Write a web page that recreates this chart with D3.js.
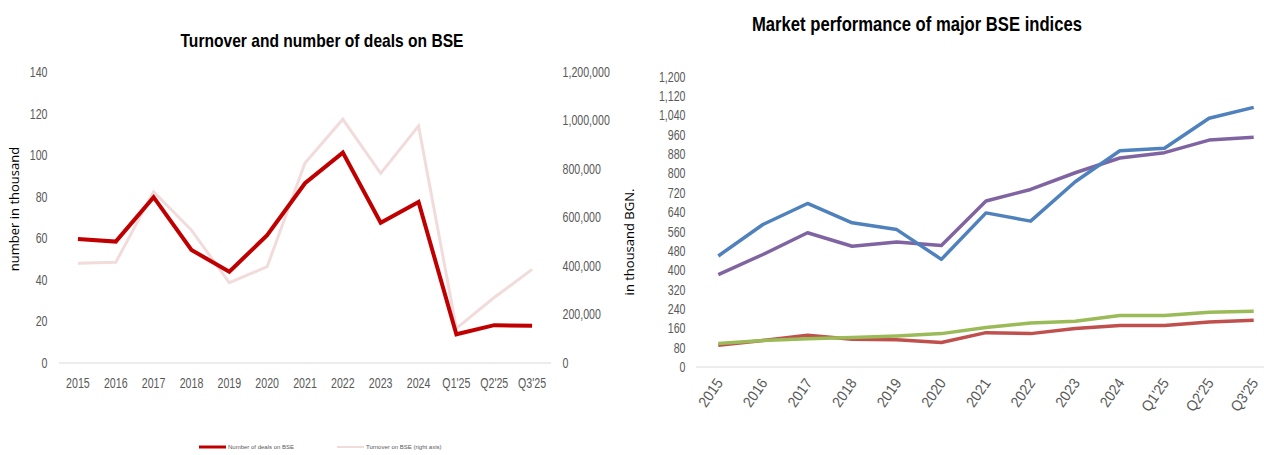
<!DOCTYPE html>
<html>
<head>
<meta charset="utf-8">
<script src="https://cdn.jsdelivr.net/npm/d3@7"></script>
<style>
  body { margin: 0; background: #fff; }
  svg text { font-family: "Liberation Sans Narrow", "Liberation Sans", sans-serif; }
</style>
</head>
<body>
<div id="chart"></div>
<script>
var periods = ['2015','2016','2017','2018','2019','2020','2021','2022','2023','2024',"Q1'25","Q2'25","Q3'25"];

// left chart: number of deals (thousand) and turnover (BGN, right axis)
var deals = [59.7, 58.4, 79.8, 54.4, 43.9, 61.5, 86.5, 101.2, 67.5, 77.5, 13.8, 18.2, 17.9];
var turnover = [411000, 415000, 706000, 548000, 331000, 397000, 825000, 1005000, 782000, 977000, 143000, 270000, 386000];
var dealTicks = [0, 20, 40, 60, 80, 100, 120, 140];
var turnoverTicks = [0, 200000, 400000, 600000, 800000, 1000000, 1200000];

// right chart: major BSE indices
var idxBlue = [459, 589, 676, 596, 568, 445, 637, 603, 766, 894, 904, 1028, 1073];
var idxPurple = [382, 465, 555, 499, 517, 502, 686, 734, 803, 864, 886, 938, 950];
var idxGreen = [97, 110, 117, 122, 128, 138, 163, 182, 189, 213, 213, 226, 230];
var idxRed = [90, 110, 131, 115, 113, 101, 142, 138, 159, 172, 172, 186, 193];
var indexTicks = d3.range(0, 1201, 80);

var W = 1264, H = 455;
var svg = d3.select('#chart').append('svg')
    .attr('width', W)
    .attr('height', H);

var grey = '#595959';

// narrow look for tick labels (squeeze horizontally)
function tickStyle(sel, extra, sx, fs) {
    sel.attr('font-size', fs || 14).attr('fill', grey)
        .attr('transform', (extra || '') + ' scale(' + (sx || 0.76) + ',1)');
}

// ---------- left chart ----------
var x1 = d3.scaleBand().domain(periods).range([59, 551]);
var y1 = d3.scaleLinear().domain([0, 140]).range([363, 72]);
var y1r = d3.scaleLinear().domain([0, 1200000]).range([363, 72]);
var cx1 = function(d) { return x1(d) + x1.bandwidth() / 2; };

svg.append('text')
    .attr('x', 322).attr('y', 47)
    .attr('text-anchor', 'middle')
    .attr('font-weight', 'bold')
    .attr('font-size', 19)
    .attr('textLength', 283).attr('lengthAdjust', 'spacingAndGlyphs')
    .attr('fill', '#000')
    .text('Turnover and number of deals on BSE');

svg.append('line')
    .attr('x1', 59).attr('x2', 551)
    .attr('y1', y1(0)).attr('y2', y1(0))
    .attr('stroke', '#d9d9d9').attr('stroke-width', 1);

var axL = svg.append('g')
    .attr('transform', 'translate(49,0)')
    .call(d3.axisLeft(y1).tickValues(dealTicks).tickSize(0).tickPadding(2));
axL.select('.domain').remove();
tickStyle(axL.selectAll('text'));

var axR = svg.append('g')
    .attr('transform', 'translate(561,0)')
    .call(d3.axisRight(y1r).tickValues(turnoverTicks).tickSize(0).tickPadding(2).tickFormat(d3.format(',')));
axR.select('.domain').remove();
tickStyle(axR.selectAll('text'));

var axB = svg.append('g')
    .attr('transform', 'translate(0,370)')
    .call(d3.axisBottom(x1).tickSize(0).tickPadding(8));
axB.select('.domain').remove();
tickStyle(axB.selectAll('text'));

svg.append('text')
    .attr('transform', 'translate(19,209) rotate(-90)')
    .attr('text-anchor', 'middle')
    .attr('font-size', 13)
    .style('font-family', '"Open Sans", sans-serif')
    .attr('fill', '#000')
    .text('number in thousand');

svg.append('path')
    .datum(turnover)
    .attr('d', d3.line().x(function(d, i) { return cx1(periods[i]); }).y(function(d) { return y1r(d); }))
    .attr('fill', 'none').attr('stroke', '#f2dcdb').attr('stroke-width', 3);

svg.append('path')
    .datum(deals)
    .attr('d', d3.line().x(function(d, i) { return cx1(periods[i]); }).y(function(d) { return y1(d); }))
    .attr('fill', 'none').attr('stroke', '#c00000').attr('stroke-width', 4);

// legend
var legend1 = [
    {label: 'Number of deals on BSE', color: '#c00000', w: 3, x: 199},
    {label: 'Turnover on BSE (right axis)', color: '#f2dcdb', w: 2, x: 337}
];
var lg = svg.selectAll('.lg').data(legend1).enter().append('g')
    .attr('transform', function(d) { return 'translate(' + d.x + ',447)'; });
lg.append('line').attr('x1', 0).attr('x2', 27).attr('y1', 0).attr('y2', 0)
    .attr('stroke', function(d) { return d.color; })
    .attr('stroke-width', function(d) { return d.w; });
lg.append('text').attr('x', 29).attr('y', 2)
    .attr('font-size', 6).attr('fill', grey)
    .text(function(d) { return d.label; });

// ---------- right chart ----------
var x2 = d3.scaleBand().domain(periods).range([696, 1276]);
var y2 = d3.scaleLinear().domain([0, 1200]).range([367, 76.7]);
var cx2 = function(d) { return x2(d) + x2.bandwidth() / 2; };

svg.append('text')
    .attr('x', 917).attr('y', 31)
    .attr('text-anchor', 'middle')
    .attr('font-weight', 'bold')
    .attr('font-size', 21)
    .attr('textLength', 330).attr('lengthAdjust', 'spacingAndGlyphs')
    .attr('fill', '#000')
    .text('Market performance of major BSE indices');

svg.append('line')
    .attr('x1', 696).attr('x2', 1264)
    .attr('y1', y2(0)).attr('y2', y2(0))
    .attr('stroke', '#d9d9d9').attr('stroke-width', 1);

var ax2 = svg.append('g')
    .attr('transform', 'translate(687,0)')
    .call(d3.axisLeft(y2).tickValues(indexTicks).tickSize(0).tickPadding(2).tickFormat(d3.format(',')));
ax2.select('.domain').remove();
tickStyle(ax2.selectAll('text'));

var ax2b = svg.append('g')
    .attr('transform', 'translate(0,380)')
    .call(d3.axisBottom(x2).tickSize(0).tickPadding(0));
ax2b.select('.domain').remove();
ax2b.selectAll('text')
    .attr('text-anchor', 'end')
    .attr('dy', '0.35em');
tickStyle(ax2b.selectAll('text'), 'translate(1,0) rotate(-55)', 0.92, 15);

svg.append('text')
    .attr('transform', 'translate(634,242) rotate(-90)')
    .attr('text-anchor', 'middle')
    .attr('font-size', 13)
    .style('font-family', '"Open Sans", sans-serif')
    .attr('fill', '#000')
    .text('in thousand BGN.');

var series2 = [
    {values: idxRed, color: '#c0504d'},
    {values: idxGreen, color: '#9bbb59'},
    {values: idxPurple, color: '#8064a2'},
    {values: idxBlue, color: '#4f81bd'}
];
var line2 = d3.line()
    .x(function(d, i) { return cx2(periods[i]); })
    .y(function(d) { return y2(d); });
svg.selectAll('.idx').data(series2).enter().append('path')
    .attr('class', 'idx')
    .attr('d', function(s) { return line2(s.values); })
    .attr('fill', 'none')
    .attr('stroke', function(s) { return s.color; })
    .attr('stroke-width', 3.5)
    .attr('stroke-linejoin', 'round');
</script>
</body>
</html>
